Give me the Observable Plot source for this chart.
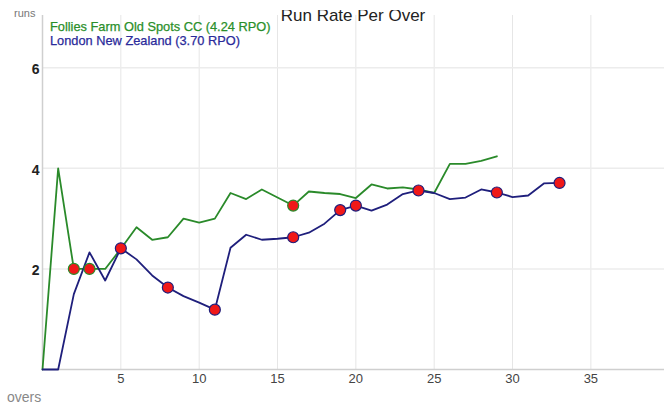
<!DOCTYPE html>
<html>
<head>
<meta charset="utf-8">
<script src="https://cdn.jsdelivr.net/npm/d3@7"></script>
<script src="https://cdn.jsdelivr.net/npm/@observablehq/plot@0.6"></script>
<style>
  html, body { margin: 0; padding: 0; background: #fff; }
  #wrap { position: relative; width: 664px; height: 407px; overflow: hidden; font-family: "Liberation Sans", Arial, sans-serif; }
  #wrap svg { position: absolute; left: 0; top: 0; }
  .clip { position: absolute; top: 10px; overflow: hidden; height: 20px; }
  #title { left: 42px; width: 622px; text-align: center; font-size: 17px; line-height: 17px; color: #222; }
  #title span, #runs span { position: relative; display: block; }
  #title span { top: -3px; }
  #runs { left: 14px; width: 30px; font-size: 11px; line-height: 11px; color: #777; }
  #runs span { top: -2px; }
  #overs { position: absolute; left: 7px; top: 389px; font-size: 14px; color: #888; }
  #legend { position: absolute; left: 50px; top: 20px; font-size: 12.8px; line-height: 13.5px; -webkit-text-stroke: 0.25px; }
</style>
</head>
<body>
<div id="wrap">
  <div id="chart"></div>
  <div id="title" class="clip"><span>Run Rate Per Over</span></div>
  <div id="runs" class="clip"><span>runs</span></div>
  <div id="overs">overs</div>
  <div id="legend"></div>
</div>
<script>
const teamNames = ["Follies Farm Old Spots CC", "London New Zealand"];
const teamRPO = ["4.24", "3.70"];
const teamColors = ["#2a8a2a", "#1f1f7c"];

// run rate after each over (over 0 = start)
const folliesRate = [0, 4.0, 2.0, 2.0, 2.0, 2.4, 2.83, 2.58, 2.63, 3.0, 2.92, 3.0, 3.51, 3.39, 3.58, 3.42, 3.26, 3.54, 3.51, 3.49, 3.41, 3.68, 3.6, 3.62, 3.58, 3.51, 4.09, 4.09, 4.15, 4.24];
const londonRate = [0, 0, 1.5, 2.33, 1.77, 2.41, 2.19, 1.87, 1.63, 1.46, 1.33, 1.19, 2.42, 2.68, 2.58, 2.6, 2.63, 2.72, 2.9, 3.17, 3.26, 3.16, 3.28, 3.49, 3.56, 3.51, 3.39, 3.42, 3.58, 3.52, 3.43, 3.46, 3.7, 3.71];

// overs in which wickets fell
const folliesWickets = [2, 3, 16];
const londonWickets = [5, 8, 11, 16, 19, 20, 24, 29, 33];

const xTicks = [5, 10, 15, 20, 25, 30, 35];
const yTicks = [2, 4, 6];

const lineData = [
  ...folliesRate.map((r, i) => ({over: i, rate: r, team: teamNames[0]})),
  ...londonRate.map((r, i) => ({over: i, rate: r, team: teamNames[1]}))
];
const wicketData = [
  ...folliesWickets.map(o => ({over: o, rate: folliesRate[o], team: teamNames[0]})),
  ...londonWickets.map(o => ({over: o, rate: londonRate[o], team: teamNames[1]}))
];

const chart = Plot.plot({
  width: 664,
  height: 407,
  marginLeft: 42,
  marginRight: 0,
  marginTop: 15,
  marginBottom: 38,
  style: {fontFamily: "'Liberation Sans', Arial, sans-serif", background: "transparent"},
  x: {domain: [0, 39.7]},
  y: {domain: [0, 7.04]},
  color: {domain: teamNames, range: teamColors},
  marks: [
    Plot.gridX(xTicks, {stroke: "#e6e6e6", strokeOpacity: 1, strokeWidth: 1}),
    Plot.gridY(yTicks, {stroke: "#ececec", strokeOpacity: 1, strokeWidth: 1.5}),
    Plot.ruleX([0], {stroke: "#cfcfcf", strokeWidth: 1.5}),
    Plot.ruleY([0], {stroke: "#cfcfcf", strokeWidth: 1.5}),
    Plot.axisX(xTicks, {tickSize: 0, tickPadding: 4, fontSize: 13, fill: "#444", tickFormat: d => String(d), label: null}),
    Plot.axisY(yTicks, {tickSize: 0, tickPadding: 3, fontSize: 14, fontWeight: "bold", fill: "#222", dy: 2, tickFormat: d => String(d), label: null}),
    Plot.line(lineData, {x: "over", y: "rate", z: "team", stroke: "team", strokeWidth: 1.8}),
    Plot.dot(wicketData, {x: "over", y: "rate", r: 5.5, fill: "#f01818", stroke: "team", strokeWidth: 1.2})
  ]
});
document.getElementById("chart").appendChild(chart);

const legend = document.getElementById("legend");
teamNames.forEach((n, i) => {
  const d = document.createElement("div");
  d.textContent = `${n} (${teamRPO[i]} RPO)`;
  d.style.color = i === 0 ? "#2a8f2a" : "#2a2a9a";
  legend.appendChild(d);
});
</script>
</body>
</html>
